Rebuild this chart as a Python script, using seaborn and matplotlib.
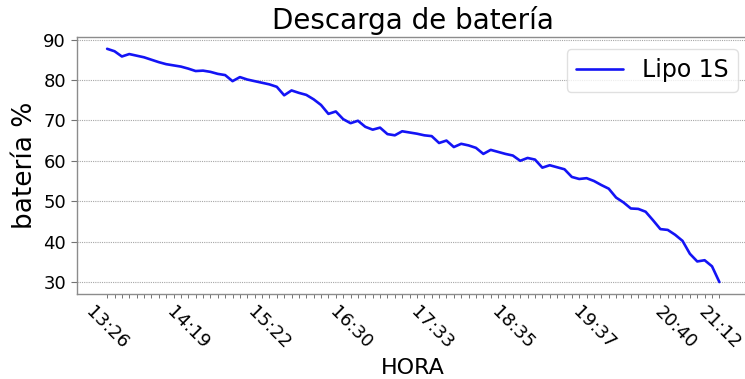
import matplotlib
matplotlib.use("Agg")
import matplotlib.pyplot as plt
import seaborn as sns
import pandas as pd

# Battery charge (%) logged at each sample
bateria = [87.7, 87.1, 85.8, 86.4, 86.0, 85.6, 85.0, 84.4, 83.9, 83.6,
           83.3, 82.8, 82.2, 82.3, 82.0, 81.5, 81.2, 79.7, 80.7, 80.1,
           79.7, 79.3, 78.9, 78.3, 76.2, 77.4, 76.8, 76.3, 75.2, 73.8,
           71.6, 72.2, 70.3, 69.3, 69.9, 68.4, 67.7, 68.2, 66.6, 66.3,
           67.3, 67.0, 66.7, 66.3, 66.1, 64.4, 65.0, 63.4, 64.2, 63.8,
           63.2, 61.7, 62.7, 62.2, 61.7, 61.3, 60.0, 60.7, 60.3, 58.3,
           58.9, 58.4, 57.9, 56.0, 55.5, 55.7, 55.0, 54.0, 53.1, 50.9,
           49.7, 48.2, 48.1, 47.4, 45.3, 43.1, 42.9, 41.7, 40.2, 37.0,
           35.1, 35.4, 33.9, 30.0]
muestra = list(range(len(bateria)))

# Labelled samples on the time axis
hora_idx = [0, 11, 22, 33, 44, 55, 66, 77, 83]
hora_txt = ["13:26", "14:19", "15:22", "16:30", "17:33",
            "18:35", "19:37", "20:40", "21:12"]

df = pd.DataFrame({"muestra": muestra, "bateria": bateria})

sns.set_style("white", rc={"text.color": "black",
                           "axes.labelcolor": "black",
                           "xtick.color": "black",
                           "ytick.color": "black"})
plt.rcParams["font.family"] = ["DejaVu Sans"]

fig = plt.figure(figsize=(7.45, 3.79), dpi=100)
ax = fig.add_axes([0.1027, 0.225, 0.904, 0.677])

sns.lineplot(data=df, x="muestra", y="bateria", ax=ax, color="#1414f5",
             linewidth=1.9, label="Lipo 1S")

ax.set_xticks(hora_idx)
ax.set_xticklabels(hora_txt, rotation=-45, ha="center", fontsize=13)
ax.set_xticks(muestra, minor=True)
ax.tick_params(axis="x", which="both", direction="out", length=3,
               width=0.7, color="0.45", bottom=True)
ax.tick_params(axis="y", direction="out", length=4, width=0.8,
               color="0.45", left=True, labelsize=13)
ax.set_yticks([30, 40, 50, 60, 70, 80, 90])

ax.grid(axis="y", which="major", color="0.65", linestyle=(0, (1, 1)),
        linewidth=0.8)
ax.grid(axis="x", visible=False)

for side in ["left", "bottom", "top", "right"]:
    ax.spines[side].set_color("0.55")
    ax.spines[side].set_linewidth(1.0)

ax.set_title("Descarga de batería", fontsize=20)
ax.set_xlabel("HORA", fontsize=16)
ax.set_ylabel("batería %", fontsize=19)

leg = ax.legend(loc="upper right", fontsize=17, frameon=True)
leg.get_frame().set_edgecolor("0.85")

fig.savefig("out.png", dpi=100)
